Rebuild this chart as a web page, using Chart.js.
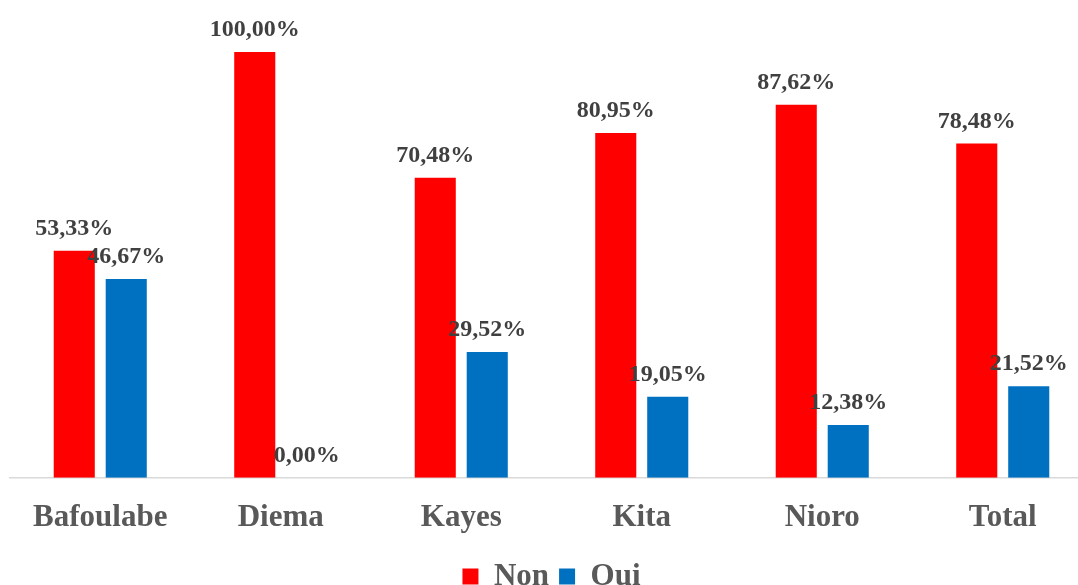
<!DOCTYPE html>
<html>
<head>
<meta charset="utf-8">
<script src="https://cdn.jsdelivr.net/npm/chart.js@4/dist/chart.umd.min.js"></script>
<style>
  html, body { margin: 0; padding: 0; background: #fff; overflow: hidden; }
  #wrap { width: 1103px; height: 602px; position: relative; }
</style>
</head>
<body>
<div id="wrap"><canvas id="chart"></canvas></div>
<script>
const categories = ['Bafoulabe', 'Diema', 'Kayes', 'Kita', 'Nioro', 'Total'];
const nonValues = [53.33, 100.00, 70.48, 80.95, 87.62, 78.48];
const ouiValues = [46.67, 0.00, 29.52, 19.05, 12.38, 21.52];

const serif = '"Liberation Serif", "Times New Roman", serif';

// draws the percentage above each bar
const valueLabels = {
  id: 'valueLabels',
  afterDatasetsDraw(chart) {
    const ctx = chart.ctx;
    ctx.save();
    ctx.font = 'bold 24px ' + serif;
    ctx.fillStyle = '#404040';
    ctx.textAlign = 'center';
    ctx.textBaseline = 'alphabetic';
    chart.data.datasets.forEach((ds, i) => {
      chart.getDatasetMeta(i).data.forEach((bar, j) => {
        const txt = ds.data[j].toFixed(2).replace('.', ',') + '%';
        ctx.fillText(txt, bar.x, bar.y - 16);
      });
    });
    ctx.restore();
  }
};

new Chart(document.getElementById('chart'), {
  type: 'bar',
  data: {
    labels: categories,
    datasets: [
      { label: 'Non', data: nonValues, backgroundColor: '#FF0000' },
      { label: 'Oui', data: ouiValues, backgroundColor: '#0070C0' }
    ]
  },
  options: {
    responsive: true,
    maintainAspectRatio: false,
    animation: false,
    layout: { padding: { top: 52, left: 10, right: 10, bottom: 0 } },
    datasets: { bar: { categoryPercentage: 0.576, barPercentage: 0.79 } },
    scales: {
      x: {
        grid: { display: false, drawTicks: false },
        border: { display: true, color: '#d9d9d9', width: 1.5 },
        ticks: {
          color: '#595959',
          padding: 29,
          font: { family: serif, size: 31, weight: 'bold', lineHeight: 0.75 }
        },
        afterFit(scale) { scale.height -= 8; }
      },
      y: { display: false, min: 0, max: 100 }
    },
    plugins: {
      tooltip: { enabled: false },
      legend: {
        position: 'bottom',
        labels: {
          color: '#595959',
          boxWidth: 16,
          boxHeight: 16,
          padding: 10,
          font: { family: serif, size: 31, weight: 'bold' }
        }
      }
    }
  },
  plugins: [valueLabels]
});
</script>
</body>
</html>
